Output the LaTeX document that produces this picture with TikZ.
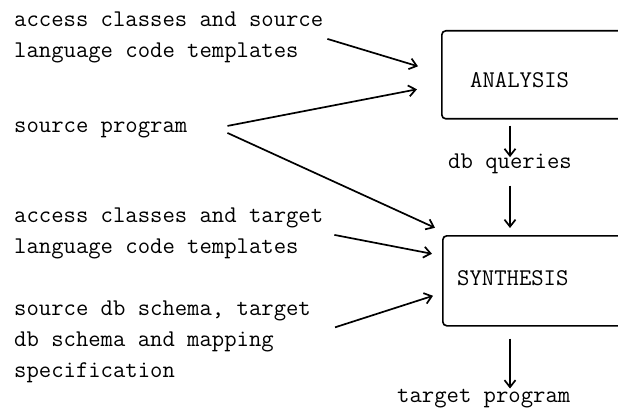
\documentclass[tikz,border=0pt]{standalone}
\usetikzlibrary{arrows,arrows.meta,positioning,calc}
\begin{document}
\begin{tikzpicture}[x=1pt,y=-1pt,
  txt/.style={font=\fontsize{24}{31}\selectfont\ttfamily,inner sep=0pt,align=left},
  stage/.style={rectangle,draw,line width=1.6pt,rounded corners=4pt,minimum width=200pt,minimum height=88pt},
  flow/.style={-{Straight Barb[length=7pt,width=11pt]},line width=1.7pt}]
\clip (0,0) rectangle (618,409);
% inputs (base = last line)
\node[txt,anchor=base west] (srcacc) at (14,58) {access classes and source\\language code templates};
\node[txt,anchor=base west] (srcprog) at (14,132) {source program};
\node[txt,anchor=base west] (tgtacc) at (14,253) {access classes and target\\language code templates};
\node[txt,anchor=base west] (schema) at (14,377) {source db schema, target\\db schema and mapping\\specification};
% stages
\node[stage,anchor=north west] (ana) at (441,30) {};
\node[txt,anchor=base west] (analbl) at (470,88) {ANALYSIS};
\node[stage,anchor=north west,minimum height=90pt] (syn) at (442,235) {};
\node[txt,anchor=base west] (synlbl) at (457,285) {SYNTHESIS};
\node[txt,anchor=base west] (dbq) at (448,168) {db queries};
\node[txt,anchor=base west] (tgtprog) at (397,402) {target program};

\draw[flow] ([xshift=4pt,yshift=-1pt]srcacc.east) -- ([xshift=-23pt,yshift=8.5pt]ana.west);
\draw[flow] ([xshift=40pt,yshift=3.5pt]srcprog.east) -- ([xshift=-24pt,yshift=-14.5pt]ana.west);
\draw[flow] ([xshift=40pt,yshift=-3.5pt]srcprog.east) -- ([xshift=-7pt,yshift=53pt]syn.west);
\draw[flow] ([xshift=11pt,yshift=-2pt]tgtacc.east) -- ([xshift=-10pt,yshift=27pt]syn.west);
\draw[flow] ([xshift=24pt,yshift=14pt]schema.east) -- ([xshift=-9pt,yshift=-15pt]syn.west);

% vertical flow
\draw[flow] ($(dbq.north |- ana.south)+(0,6)$) -- ($(dbq.north)+(0,4)$);
\draw[flow] ($(dbq.south)+(0,12)$) -- ($(dbq.south |- syn.north)+(0,-7)$);
\draw[flow] ($(dbq.south |- syn.south)+(0,12)$) -- (dbq.south |- tgtprog.north);

\end{tikzpicture}
\end{document}
